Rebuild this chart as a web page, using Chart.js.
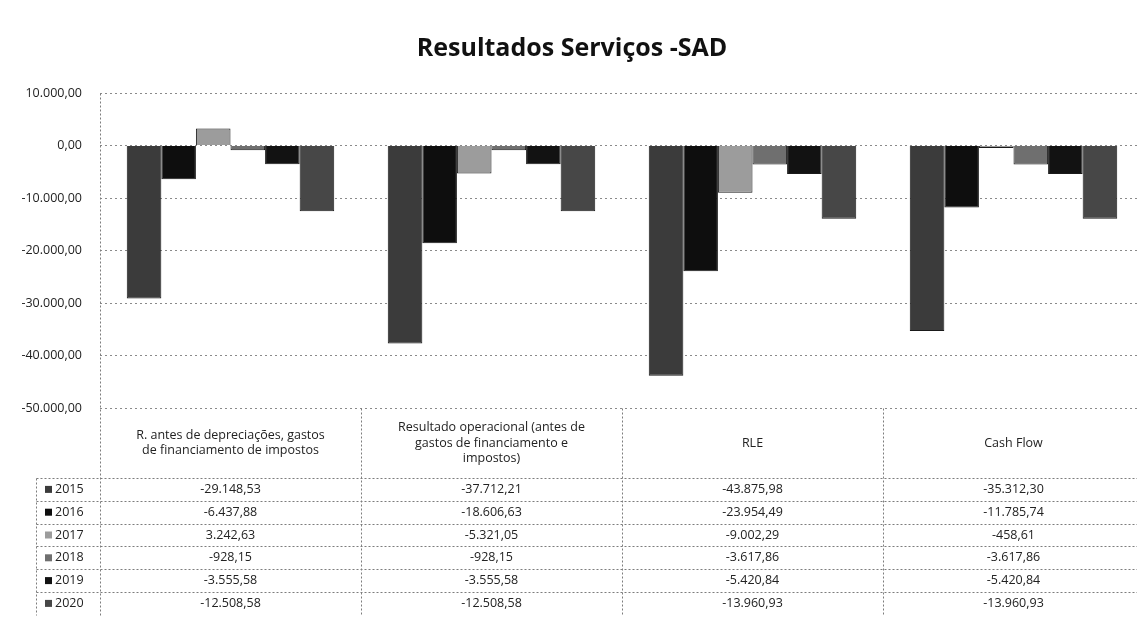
<!DOCTYPE html>
<html>
<head>
<meta charset="utf-8">
<title>Resultados Serviços -SAD</title>
<script src="https://cdn.jsdelivr.net/npm/chart.js@4.4.1/dist/chart.umd.min.js"></script>
<style>
  html, body { margin: 0; padding: 0; background: #fff; overflow: hidden; }
  #wrap { width: 1144px; height: 644px; }
</style>
</head>
<body>
<div id="wrap"><canvas id="myChart"></canvas></div>
<script>
// categories (header lines of the data table)
const categories = [
  ['R. antes de depreciações, gastos', 'de financiamento de impostos'],
  ['Resultado operacional (antes de', 'gastos de financiamento e', 'impostos)'],
  ['RLE'],
  ['Cash Flow']
];
const years = ['2015', '2016', '2017', '2018', '2019', '2020'];

// values per year, one per category
const v2015 = [-29148.53, -37712.21, -43875.98, -35312.30];
const v2016 = [-6437.88, -18606.63, -23954.49, -11785.74];
const v2017 = [3242.63, -5321.05, -9002.29, -458.61];
const v2018 = [-928.15, -928.15, -3617.86, -3617.86];
const v2019 = [-3555.58, -3555.58, -5420.84, -5420.84];
const v2020 = [-12508.58, -12508.58, -13960.93, -13960.93];
const seriesValues = [v2015, v2016, v2017, v2018, v2019, v2020];

// y axis ticks
const yMin = -50000;
const yMax = 10000;
const yStep = 10000;

const seriesColors = ['#3b3b3b', '#0e0e0e', '#9c9c9c', '#6f6f6f', '#121212', '#474747'];

// 1.234,56 style number
function fmt(v) {
  const neg = v < 0;
  const parts = Math.abs(v).toFixed(2).split('.');
  const int = parts[0].replace(/\B(?=(\d{3})+(?!\d))/g, '.');
  return (neg ? '-' : '') + int + ',' + parts[1];
}

const FONT = '"Open Sans", "Liberation Sans", sans-serif';

// data table under the plot, aligned on the x scale
const dataTable = {
  id: 'dataTable',
  afterDraw(chart) {
    const ctx = chart.ctx;
    const a = chart.chartArea;
    const x = chart.scales.x;
    const colW = x.width / categories.length;
    const headBot = a.bottom + 70;
    const rowH = 22.8;
    const legL = 36;
    const right = chart.width;
    const bottom = headBot + rowH * years.length;

    ctx.save();
    ctx.strokeStyle = '#7d7d7d';
    ctx.lineWidth = 1;
    ctx.setLineDash([2, 2]);
    const line = (x1, y1, x2, y2) => {
      ctx.beginPath();
      ctx.moveTo(Math.round(x1) + 0.5, Math.round(y1) + 0.5);
      ctx.lineTo(Math.round(x2) + 0.5, Math.round(y2) + 0.5);
      ctx.stroke();
    };
    // y axis line, continued through the table
    line(a.left, a.top, a.left, bottom);
    // row separators
    for (let i = 0; i < years.length; i++) {
      const y = headBot + i * rowH;
      line(legL, y, right, y);
    }
    // column separators
    for (let i = 1; i < categories.length; i++) {
      const xb = x.getPixelForValue(i) - colW / 2;
      line(xb, a.bottom, xb, bottom);
    }
    line(legL, headBot, legL, bottom);
    ctx.setLineDash([]);

    // header
    ctx.fillStyle = '#222';
    ctx.textAlign = 'center';
    ctx.textBaseline = 'middle';
    ctx.font = '12.5px ' + FONT;
    const lh = 15.5;
    categories.forEach((lines, i) => {
      const cx = x.getPixelForValue(i);
      const cy = a.bottom + 35;
      lines.forEach((t, j) => {
        ctx.fillText(t, cx, cy + (j - (lines.length - 1) / 2) * lh);
      });
    });

    // rows
    years.forEach((yr, r) => {
      const cy = headBot + rowH * (r + 0.5);
      ctx.fillStyle = seriesColors[r];
      ctx.fillRect(45, cy - 3.5, 7, 7);
      ctx.fillStyle = '#222';
      ctx.textAlign = 'left';
      ctx.fillText(yr, 55, cy);
      ctx.textAlign = 'center';
      seriesValues[r].forEach((v, i) => {
        ctx.fillText(fmt(v), x.getPixelForValue(i), cy);
      });
    });
    ctx.restore();
  }
};

const datasets = years.map((yr, i) => ({
  label: yr,
  data: seriesValues[i],
  backgroundColor: seriesColors[i],
  borderColor: '#1a1a1a',
  borderWidth: 1,
  categoryPercentage: 0.795,
  barPercentage: 1.0
}));

const config = {
  type: 'bar',
  data: {
    labels: categories.map(c => c.join(' ')),
    datasets
  },
  options: {
    responsive: true,
    maintainAspectRatio: false,
    animation: false,
    layout: {
      padding: { top: 0, right: 0, bottom: 236, left: 0 }
    },
    plugins: {
      legend: { display: false },
      tooltip: { enabled: false },
      title: {
        display: true,
        text: 'Resultados Serviços -SAD',
        color: '#111',
        font: { family: FONT, size: 25, weight: 'bold' },
        padding: { top: 34, bottom: 29 }
      }
    },
    scales: {
      x: {
        display: false
      },
      y: {
        min: yMin,
        max: yMax,
        afterFit: (scale) => { scale.width = 100; },
        ticks: {
          stepSize: yStep,
          padding: 18,
          color: '#222',
          font: { family: FONT, size: 12.5 },
          callback: (v) => fmt(v)
        },
        grid: {
          color: '#8a8a8a',
          drawTicks: false
        },
        border: {
          display: false,
          dash: [2, 3]
        }
      }
    }
  },
  plugins: [dataTable]
};

const myChart = new Chart(document.getElementById('myChart'), config);
</script>
</body>
</html>
